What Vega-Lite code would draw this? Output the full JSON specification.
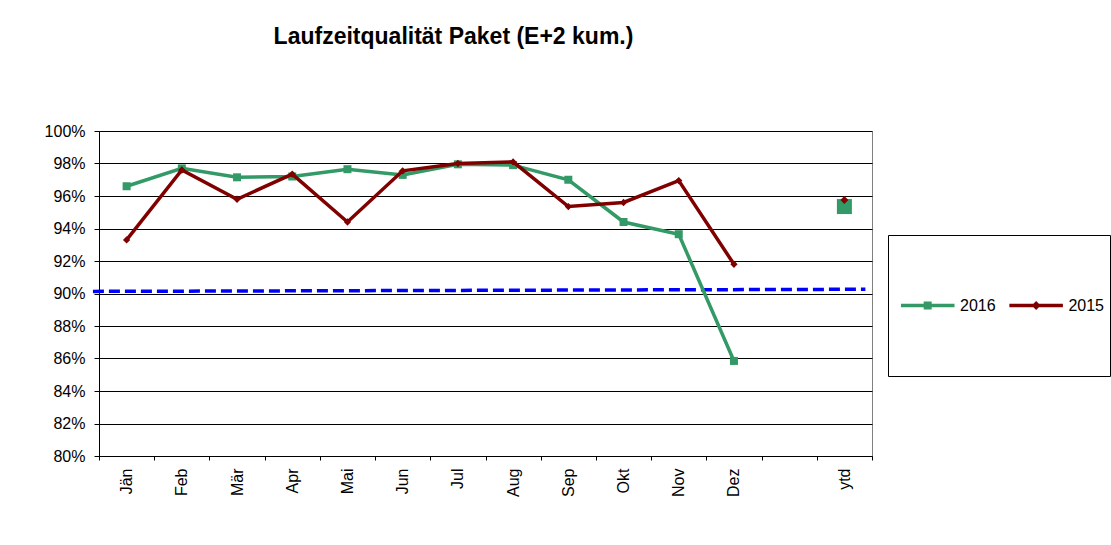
{
  "$schema": "https://vega.github.io/schema/vega-lite/v6.json",
  "width": 773,
  "height": 325,
  "autosize": {"type": "none"},
  "padding": {"left": 99, "top": 131, "right": 239, "bottom": 89},
  "background": "white",
  "config": {
    "font": "Liberation Sans",
    "view": {"stroke": "#808080", "strokeWidth": 1}
  },
  "title": {
    "text": "Laufzeitqualität Paket (E+2 kum.)",
    "font": "Liberation Sans",
    "fontSize": 23,
    "fontWeight": "bold",
    "color": "black",
    "anchor": "middle",
    "dx": -32,
    "offset": 74
  },
  "data": {
    "values": [
      {"m": "Jän", "s": "2016", "v": 96.6},
      {"m": "Feb", "s": "2016", "v": 97.7},
      {"m": "Mär", "s": "2016", "v": 97.15},
      {"m": "Apr", "s": "2016", "v": 97.2},
      {"m": "Mai", "s": "2016", "v": 97.65},
      {"m": "Jun", "s": "2016", "v": 97.3},
      {"m": "Jul", "s": "2016", "v": 97.95},
      {"m": "Aug", "s": "2016", "v": 97.9},
      {"m": "Sep", "s": "2016", "v": 97.0},
      {"m": "Okt", "s": "2016", "v": 94.4},
      {"m": "Nov", "s": "2016", "v": 93.65},
      {"m": "Dez", "s": "2016", "v": 85.85},
      {"m": "ytd", "s": "2016", "v": 95.35},
      {"m": "Jän", "s": "2015", "v": 93.3},
      {"m": "Feb", "s": "2015", "v": 97.6},
      {"m": "Mär", "s": "2015", "v": 95.8},
      {"m": "Apr", "s": "2015", "v": 97.35},
      {"m": "Mai", "s": "2015", "v": 94.4},
      {"m": "Jun", "s": "2015", "v": 97.55},
      {"m": "Jul", "s": "2015", "v": 98.0},
      {"m": "Aug", "s": "2015", "v": 98.1},
      {"m": "Sep", "s": "2015", "v": 95.35},
      {"m": "Okt", "s": "2015", "v": 95.6},
      {"m": "Nov", "s": "2015", "v": 96.95},
      {"m": "Dez", "s": "2015", "v": 91.8},
      {"m": "ytd", "s": "2015", "v": 95.75}
    ]
  },
  "encoding": {
    "y": {
      "field": "v",
      "type": "quantitative",
      "scale": {"domain": [80, 100], "nice": false, "zero": false},
      "axis": {
        "title": null,
        "values": [80, 82, 84, 86, 88, 90, 92, 94, 96, 98, 100],
        "labelExpr": "datum.value + '%'",
        "labelOverlap": false,
        "grid": true,
        "gridColor": "black",
        "gridWidth": 1,
        "domainColor": "black",
        "tickColor": "black",
        "tickSize": 5,
        "labelPadding": 9,
        "labelFont": "Liberation Sans",
        "labelFontSize": 16,
        "labelColor": "black"
      }
    }
  },
  "layer": [
    {
      "data": {"values": [{"t": -0.11, "v": 90.13}, {"t": 13.88, "v": 90.26}]},
      "mark": {"type": "line", "color": "#0000ff", "strokeWidth": 3.5, "strokeDash": [11, 5]},
      "encoding": {
        "x": {"field": "t", "type": "quantitative", "scale": {"domain": [0, 14], "nice": false, "zero": false}, "axis": null}
      }
    },
    {
      "encoding": {
        "x": {
          "field": "m",
          "type": "nominal",
          "sort": null,
          "scale": {
            "type": "band",
            "domain": ["Jän", "Feb", "Mär", "Apr", "Mai", "Jun", "Jul", "Aug", "Sep", "Okt", "Nov", "Dez", " ", "ytd"],
            "paddingInner": 0,
            "paddingOuter": 0
          },
          "axis": {
            "title": null,
            "labelAngle": -90,
            "tickBand": "extent",
            "grid": false,
            "domainColor": "black",
            "tickColor": "black",
            "tickSize": 4,
            "labelPadding": 8,
            "labelFont": "Liberation Sans",
            "labelFontSize": 16,
            "labelColor": "black"
          }
        }
      },
      "layer": [
        {
          "transform": [{"filter": "datum.s === '2016' && datum.m !== 'ytd'"}],
          "mark": {"type": "line", "strokeWidth": 3.5},
          "encoding": {
            "color": {
              "field": "s",
              "type": "nominal",
              "scale": {"domain": ["2016", "2015"], "range": ["#339966", "#800000"]},
              "legend": {
                "title": null,
                "orient": "none",
                "legendX": 789,
                "legendY": 104,
                "direction": "horizontal",
                "padding": 6,
                "strokeColor": "black",
                "fillColor": "white",
                "labelFont": "Liberation Sans",
                "labelFontSize": 16,
                "labelColor": "black",
                "labelOffset": -63,
                "columnPadding": 6.4,
                "symbolSize": 16641,
                "symbolStrokeWidth": 0,
                "symbolOffset": 0,
                "encode": {
                  "symbols": {
                    "update": {
                      "shape": {"signal": "datum.value === '2016' ? 'M-0.892,-1M-0.892,1M-0.892,-0.027H-0.062V0.027H-0.892ZM-0.54,-0.062H-0.416V0.062H-0.54Z' : 'M-0.892,-1M-0.892,1M-0.892,-0.027H-0.062V0.027H-0.892ZM-0.477,-0.07L-0.407,0L-0.477,0.07L-0.547,0Z'"},
                      "fill": {"signal": "datum.value === '2016' ? '#339966' : '#800000'"},
                      "stroke": {"value": "transparent"},
                      "strokeWidth": {"value": 0},
                      "opacity": {"value": 1}
                    }
                  }
                }
              }
            }
          }
        },
        {
          "transform": [{"filter": "datum.s === '2016'"}],
          "mark": {"type": "point", "shape": "square", "filled": true, "opacity": 1, "color": "#339966"},
          "encoding": {
            "size": {"condition": {"test": "datum.m === 'ytd'", "value": 225}, "value": 64}
          }
        },
        {
          "transform": [{"filter": "datum.s === '2015' && datum.m !== 'ytd'"}],
          "mark": {"type": "line", "strokeWidth": 3.5},
          "encoding": {
            "color": {"field": "s", "type": "nominal"}
          }
        },
        {
          "transform": [{"filter": "datum.s === '2015'"}],
          "mark": {"type": "point", "shape": "diamond", "filled": true, "opacity": 1, "color": "#800000"},
          "encoding": {
            "size": {"condition": {"test": "datum.m === 'ytd'", "value": 64}, "value": 53}
          }
        }
      ]
    }
  ],
  "resolve": {"scale": {"x": "independent"}}
}
